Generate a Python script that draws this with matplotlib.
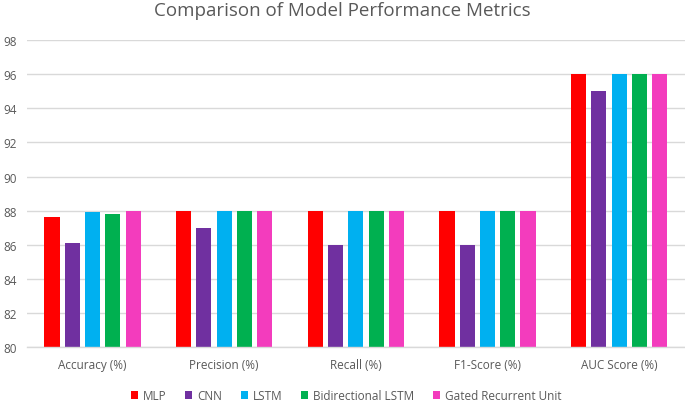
import matplotlib.pyplot as plt
import numpy as np

plt.rcParams['font.family'] = ['Open Sans', 'DejaVu Sans']

categories = ["Accuracy (%)", "Precision (%)", "Recall (%)", "F1-Score (%)", "AUC Score (%)"]
models = ["MLP", "CNN", "LSTM", "Bidirectional LSTM", "Gated Recurrent Unit"]
mlp = [87.6, 88.0, 88.0, 88.0, 96.0]
cnn = [86.1, 87.0, 86.0, 86.0, 95.0]
lstm = [87.9, 88.0, 88.0, 88.0, 96.0]
bilstm = [87.8, 88.0, 88.0, 88.0, 96.0]
gru = [88.0, 88.0, 88.0, 88.0, 96.0]
colors = ["#FF0000", "#7030A0", "#00B0F0", "#00B050", "#F33CBD"]

series = [mlp, cnn, lstm, bilstm, gru]

fig = plt.figure(figsize=(6.85, 4.02), dpi=100)
ax = fig.add_axes([0.039, 0.134, 0.961, 0.764])

x = np.arange(len(categories))
slot = 0.154
width = 0.115
for i, vals in enumerate(series):
    ax.bar(x + (i - 2) * slot, np.array(vals) - 80, width, bottom=80,
           color=colors[i], label=models[i], zorder=3)

ax.set_xlim(-0.5, len(categories) - 0.5)
ax.set_ylim(80, 98)
ax.set_yticks(np.arange(80, 99, 2))
ax.set_xticks(x)
ax.set_xticklabels(categories)
ax.tick_params(length=0, labelsize=8.5, labelcolor="#595959")
ax.tick_params(axis='y', pad=7)
ax.tick_params(axis='x', pad=8)
ax.grid(axis='y', color="#D9D9D9", linewidth=1, zorder=0)
for s in ['top', 'right', 'left']:
    ax.spines[s].set_visible(False)
ax.spines['bottom'].set_color("#D9D9D9")
ax.spines['bottom'].set_linewidth(1)
ax.spines['bottom'].set_zorder(4)

fig.suptitle("Comparison of Model Performance Metrics", y=0.995, fontsize=13.5, color="#595959")

fig.legend(loc='lower center', bbox_to_anchor=(0.505, -0.02), ncol=5, frameon=False,
           fontsize=8.5, labelcolor="#595959", handlelength=0.6, handleheight=0.6,
           handletextpad=0.4, columnspacing=1.6, borderaxespad=0.2)

fig.savefig("out.png", dpi=100)
